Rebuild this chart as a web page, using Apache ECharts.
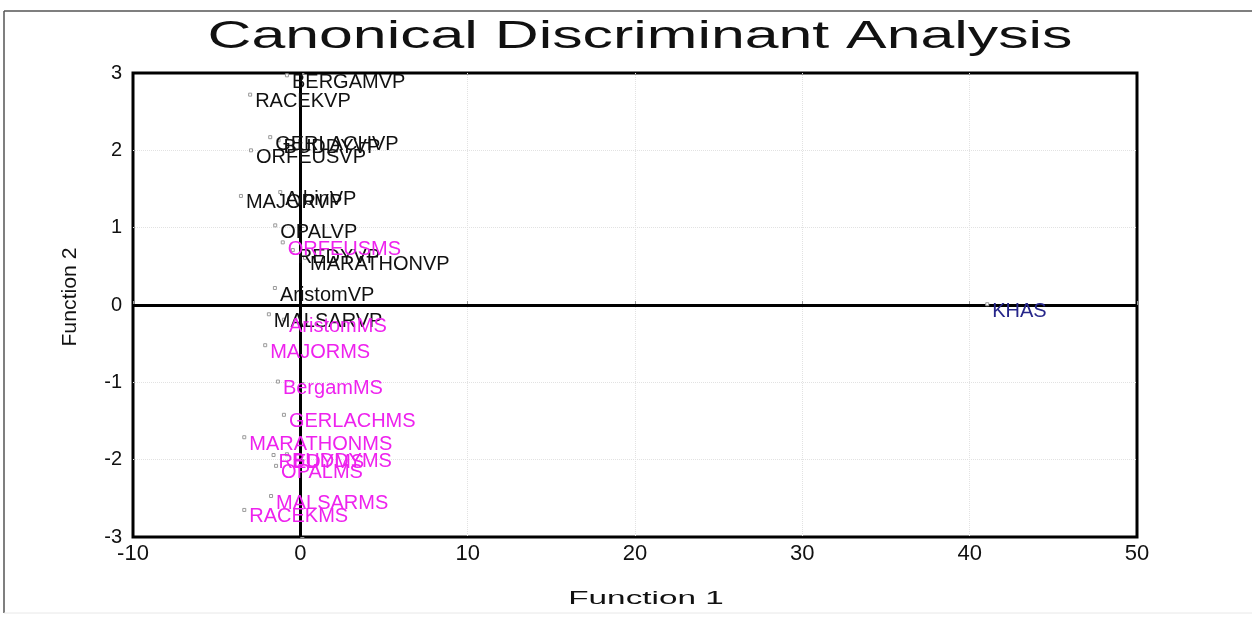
<!DOCTYPE html>
<html>
<head>
<meta charset="utf-8">
<script src="https://cdn.jsdelivr.net/npm/echarts@6/dist/echarts.min.js"></script>
<style>
  html, body { margin: 0; padding: 0; background: #fff; }
  #chart { width: 1252px; height: 617px; }
</style>
</head>
<body>
<div id="chart"></div>
<script>
// Canonical scores (Function 1, Function 2) per cultivar/treatment
const vpNames = ['BERGAMVP', 'RACEKVP', 'GERLACHVP', 'BUDDYVP', 'ORFEUSVP', 'AlbinVP', 'MAJORVP',
  'OPALVP', 'REDYVP', 'MARATHONVP', 'AristomVP', 'MALSARVP'];
const vpF1 = [-0.8, -3.0, -1.8, -1.3, -2.95, -1.2, -3.55, -1.5, -0.45, 0.28, -1.52, -1.88];
const vpF2 = [2.97, 2.72, 2.17, 2.13, 2.0, 1.46, 1.41, 1.03, 0.71, 0.61, 0.22, -0.12];

const msNames = ['ORFEUSMS', 'AristomMS', 'MAJORMS', 'BergamMS', 'GERLACHMS', 'MARATHONMS',
  'REDYMS', 'BUDDYMS', 'OPALMS', 'MALSARMS', 'RACEKMS'];
const msF1 = [-1.05, -0.98, -2.1, -1.34, -0.98, -3.35, -1.6, -0.8, -1.45, -1.75, -3.35];
const msF2 = [0.81, -0.19, -0.52, -0.99, -1.42, -1.71, -1.94, -1.93, -2.08, -2.47, -2.65];

const ctrlNames = ['KHAS'];
const ctrlF1 = [41.05];
const ctrlF2 = [0.01];

const xTicks = { min: -10, max: 50, step: 10 };
const yTicks = { min: -3, max: 3, step: 1 };

const toPoints = (names, f1, f2) => names.map((n, i) => ({ name: n, value: [f1[i], f2[i]] }));

const FONT = 'Arial, "Liberation Sans", sans-serif';

function scoreSeries(names, f1, f2, color) {
  return {
    type: 'scatter',
    data: toPoints(names, f1, f2),
    symbol: 'rect',
    symbolSize: 3,
    itemStyle: { color: '#fff', borderColor: '#9a9a9a', borderWidth: 1, opacity: 1 },
    label: {
      show: true,
      position: 'right',
      distance: 3,
      formatter: p => p.name,
      color: color,
      fontFamily: FONT,
      fontSize: 20
    },
    labelLayout: { hideOverlap: false, dy: 7 },
    emphasis: { disabled: true },
    z: 5
  };
}

const chart = echarts.init(document.getElementById('chart'));
chart.setOption({
  animation: false,
  backgroundColor: '#fff',
  grid: {
    left: 133, right: 115, top: 73, bottom: 80,
    show: true, borderColor: '#000', borderWidth: 3, backgroundColor: 'transparent'
  },
  xAxis: {
    type: 'value', min: xTicks.min, max: xTicks.max, interval: xTicks.step,
    axisLine: { show: false },
    axisTick: { show: true, inside: true, length: 4, lineStyle: { color: '#999' } },
    splitLine: {
      show: true, showMinLine: false, showMaxLine: false,
      lineStyle: { color: '#e2e2e2', type: 'dotted', width: 1 }
    },
    axisLabel: {
      color: '#111', fontSize: 22, margin: 6,
      fontFamily: '"Liberation Sans Narrow", "Arial Narrow", Arial, sans-serif'
    }
  },
  yAxis: {
    type: 'value', min: yTicks.min, max: yTicks.max, interval: yTicks.step,
    axisLine: { show: false },
    axisTick: { show: true, inside: true, length: 4, lineStyle: { color: '#999' } },
    splitLine: {
      show: true, showMinLine: false, showMaxLine: false,
      lineStyle: { color: '#e2e2e2', type: 'dotted', width: 1 }
    },
    axisLabel: { color: '#111', fontSize: 20, margin: 11, fontFamily: FONT }
  },
  series: [
    Object.assign(scoreSeries(vpNames, vpF1, vpF2, '#111'), {
      markLine: {
        silent: true,
        symbol: 'none',
        label: { show: false },
        lineStyle: { color: '#000', width: 3, type: 'solid' },
        data: [{ xAxis: 0 }, { yAxis: 0 }],
        z: 3
      }
    }),
    scoreSeries(msNames, msF1, msF2, '#ee22ee'),
    scoreSeries(ctrlNames, ctrlF1, ctrlF2, '#26268a')
  ],
  graphic: [
    // page frame
    { type: 'line', shape: { x1: 4, y1: 11, x2: 1252, y2: 11 }, style: { stroke: '#555', lineWidth: 1.5 } },
    { type: 'line', shape: { x1: 4, y1: 11, x2: 4, y2: 613 }, style: { stroke: '#555', lineWidth: 1.5 } },
    { type: 'line', shape: { x1: 4, y1: 613, x2: 1252, y2: 613 }, style: { stroke: '#e8e8e8', lineWidth: 1 } },
    // title
    {
      type: 'text', x: 640, y: 38, scaleX: 1.6, scaleY: 1,
      style: {
        text: 'Canonical Discriminant Analysis', x: 0, y: 0,
        fontSize: 38, fontFamily: FONT, fill: '#111',
        align: 'center', verticalAlign: 'middle', textAlign: 'center', textVerticalAlign: 'middle'
      }
    },
    // axis names
    {
      type: 'text', x: 646, y: 599, scaleX: 1.85, scaleY: 1,
      style: {
        text: 'Function 1', x: 0, y: 0, fontSize: 18, fontFamily: FONT, fill: '#111',
        align: 'center', verticalAlign: 'middle', textAlign: 'center', textVerticalAlign: 'middle'
      }
    },
    {
      type: 'text', x: 71, y: 297, rotation: Math.PI / 2, scaleX: 1.25, scaleY: 1.15,
      style: {
        text: 'Function 2', x: 0, y: 0, fontSize: 17, fontFamily: FONT, fill: '#111',
        align: 'center', verticalAlign: 'middle', textAlign: 'center', textVerticalAlign: 'middle'
      }
    }
  ]
});
</script>
</body>
</html>
